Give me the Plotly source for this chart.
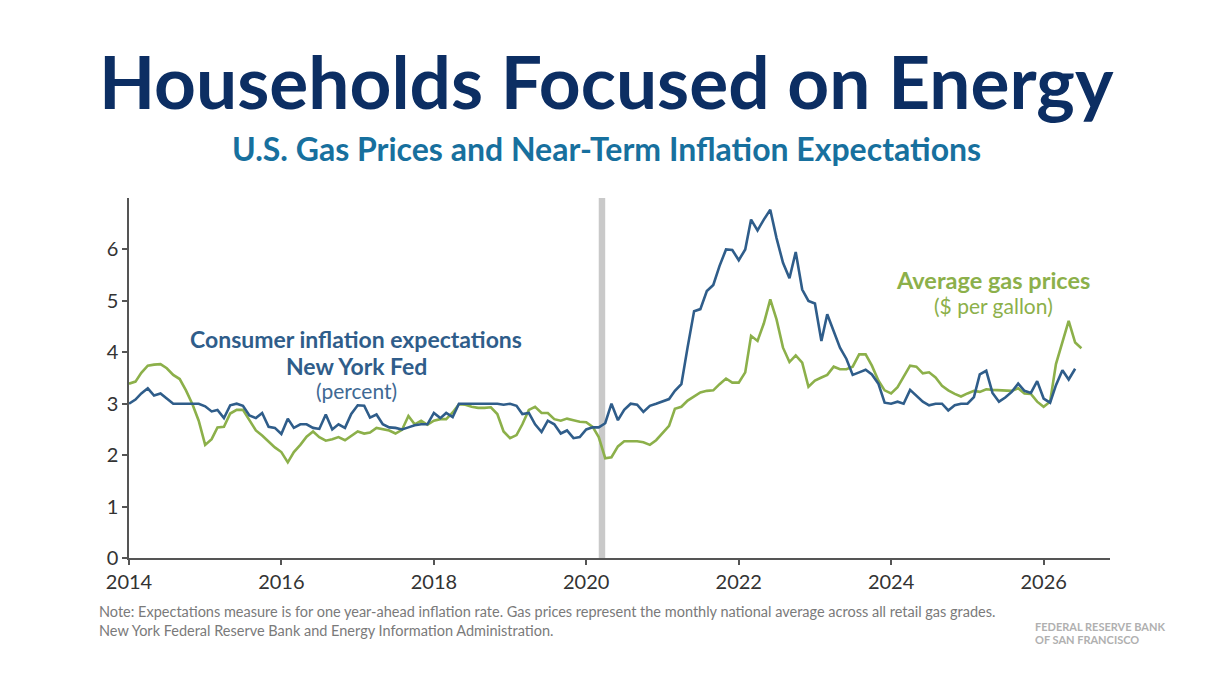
import pandas as pd
import plotly.graph_objects as go

# ---------------- data ----------------
expect_start = "2014-01-01"
expectations = [
    # 2014
    3.0, 3.08, 3.2, 3.3, 3.16, 3.2, 3.1, 3.0, 3.0, 3.0, 3.0, 3.0,
    # 2015
    2.95, 2.85, 2.88, 2.72, 2.97, 3.0, 2.96, 2.77, 2.72, 2.82, 2.55, 2.53,
    # 2016
    2.41, 2.71, 2.53, 2.6, 2.6, 2.53, 2.51, 2.79, 2.5, 2.6, 2.53, 2.8,
    # 2017
    2.97, 2.96, 2.73, 2.79, 2.6, 2.54, 2.53, 2.5, 2.54, 2.58, 2.6, 2.6,
    # 2018
    2.82, 2.72, 2.82, 2.74, 3.0, 3.0, 3.0, 3.0, 3.0, 3.0, 3.0, 2.98,
    # 2019
    3.0, 2.96, 2.8, 2.82, 2.6, 2.45, 2.67, 2.6, 2.42, 2.48, 2.33, 2.35,
    # 2020
    2.5, 2.54, 2.54, 2.62, 3.0, 2.68, 2.88, 3.0, 2.98, 2.84, 2.96, 3.0,
    # 2021
    3.04, 3.09, 3.25, 3.38, 4.1, 4.8, 4.84, 5.19, 5.31, 5.68, 6.0, 5.99,
    # 2022
    5.79, 6.0, 6.58, 6.37, 6.58, 6.77, 6.22, 5.74, 5.44, 5.95, 5.22, 5.0,
    # 2023
    4.95, 4.22, 4.74, 4.41, 4.09, 3.87, 3.56, 3.61, 3.66, 3.57, 3.39, 3.02,
    # 2024
    3.0, 3.04, 3.0, 3.27, 3.16, 3.04, 2.97, 3.0, 3.0, 2.87, 2.97, 3.0,
    # 2025
    3.0, 3.13, 3.57, 3.64, 3.21, 3.04, 3.12, 3.23, 3.39, 3.25, 3.21, 3.44,
    # 2026
    3.1, 3.02, 3.36, 3.65, 3.47, 3.68,
]

gas_start = "2014-01-01"
gas_prices = [
    # 2014
    3.39, 3.43, 3.6, 3.74, 3.76, 3.77, 3.69, 3.56, 3.48, 3.26, 2.99, 2.67,
    # 2015
    2.2, 2.31, 2.54, 2.55, 2.81, 2.88, 2.88, 2.67, 2.48, 2.38, 2.27, 2.15,
    # 2016
    2.06, 1.86, 2.06, 2.2, 2.36, 2.46, 2.35, 2.28, 2.31, 2.35, 2.29, 2.37,
    # 2017
    2.46, 2.42, 2.44, 2.53, 2.5, 2.48, 2.42, 2.49, 2.76, 2.6, 2.67, 2.59,
    # 2018
    2.67, 2.7, 2.7, 2.83, 2.99, 2.98, 2.94, 2.92, 2.92, 2.93, 2.8, 2.46,
    # 2019
    2.33, 2.39, 2.6, 2.88, 2.94, 2.82, 2.82, 2.7, 2.67, 2.71, 2.68, 2.65,
    # 2020
    2.64, 2.55, 2.35, 1.94, 1.96, 2.17, 2.27, 2.27, 2.27, 2.25, 2.2, 2.29,
    # 2021
    2.42, 2.57, 2.9, 2.94, 3.06, 3.14, 3.22, 3.25, 3.26, 3.38, 3.49, 3.41,
    # 2022
    3.41, 3.61, 4.32, 4.22, 4.56, 5.03, 4.64, 4.09, 3.81, 3.94, 3.8, 3.33,
    # 2023
    3.45, 3.51, 3.56, 3.72, 3.67, 3.67, 3.72, 3.96, 3.96, 3.74, 3.45, 3.26,
    # 2024
    3.2, 3.32, 3.52, 3.74, 3.72, 3.59, 3.61, 3.51, 3.35, 3.26, 3.19, 3.14,
    # 2025
    3.2, 3.25, 3.23, 3.28, 3.27, 3.26, 3.25, 3.25, 3.3, 3.2, 3.19, 3.04,
    # 2026
    2.94, 3.04, 3.77, 4.19, 4.61, 4.19, 4.08,
]

x_tick_years = [2014, 2016, 2018, 2020, 2022, 2024, 2026]
y_tick_values = [0, 1, 2, 3, 4, 5, 6]
shade_start, shade_end = "2020-03-01", "2020-04-01"

title_text = "Households Focused on Energy"
subtitle_text = "U.S. Gas Prices and Near-Term Inflation Expectations"
note_line1 = ("Note: Expectations measure is for one year-ahead inflation rate. "
              "Gas prices represent the monthly national average across all retail gas grades.")
note_line2 = "New York Federal Reserve Bank and Energy Information Administration."

# ---------------- figure ----------------
BLUE = "#2f5d8a"
GREEN = "#8cb04a"
NAVY = "#0c2e63"
TEAL = "#17709e"
FONT = "Lato"

exp_dates = pd.date_range(expect_start, periods=len(expectations), freq="MS")
gas_dates = pd.date_range(gas_start, periods=len(gas_prices), freq="MS")

fig = go.Figure()
fig.add_shape(type="rect", x0=shade_start, x1=shade_end, y0=0, y1=1,
              xref="x", yref="paper",
              fillcolor="#c9c9c9", line_width=0, layer="below")
fig.add_trace(go.Scatter(x=gas_dates, y=gas_prices, mode="lines",
                         line=dict(color=GREEN, width=2.6), name="Average gas prices"))
fig.add_trace(go.Scatter(x=exp_dates, y=expectations, mode="lines",
                         line=dict(color=BLUE, width=2.6), name="Consumer inflation expectations"))

# page offsets the figure by 8px (default body margin); work in screen pixels
OFF = 8
W, H = 1210, 680
PL, PR, PT, PB = 129, 1110, 198, 558          # plot area on screen
L, R, T, B = PL - OFF, W - (PR - OFF), PT - OFF, H - (PB - OFF)
PW, PH = PR - PL, PB - PT


def px(x):
    return (x - PL) / PW


def py(y):
    return (PB - y) / PH


def note(text, x, y, size, color, anchor="center", bold=False):
    return dict(text=f"<b>{text}</b>" if bold else text, x=px(x), y=py(y),
                xref="paper", yref="paper", showarrow=False,
                xanchor=anchor, yanchor="middle",
                font=dict(family=FONT, size=size, color=color))


ann = [
    note(title_text, 606, 81, 73, NAVY, bold=True),
    note(subtitle_text, 606, 148, 32, TEAL, bold=True),
    note("Consumer inflation expectations", 356, 339, 23, BLUE, bold=True),
    note("New York Fed", 356, 366, 23, BLUE, bold=True),
    note("(percent)", 356, 390, 21, "#3f6a94"),
    note("Average gas prices", 993, 280, 23.5, GREEN, bold=True),
    note("($ per gallon)", 993, 305, 21, GREEN),
    note(note_line1, 97, 611, 14.5, "#7a7a7a", anchor="left"),
    note(note_line2, 97, 630, 14.5, "#7a7a7a", anchor="left"),
    note("FEDERAL RESERVE BANK", 1033, 626, 11, "#b0b0b0", anchor="left", bold=True),
    note("OF SAN FRANCISCO", 1033, 639, 11, "#b0b0b0", anchor="left", bold=True),
]

fig.update_layout(
    width=W, height=H,
    margin=dict(l=L, r=R, t=T, b=B, autoexpand=False),
    paper_bgcolor="white", plot_bgcolor="white",
    showlegend=False,
    annotations=ann,
    font=dict(family=FONT, color="#333333"),
)
fig.update_xaxes(
    range=["2014-01-01", "2026-11-15"],
    tickvals=[f"{y}-01-01" for y in x_tick_years],
    ticktext=[str(y) for y in x_tick_years],
    showgrid=False, zeroline=False,
    showline=True, linecolor="#555555", linewidth=1.5,
    ticks="outside", ticklen=5, tickcolor="#555555", tickwidth=1.5,
    tickfont=dict(family=FONT, size=20, color="#333333"),
)
fig.update_yaxes(
    range=[0, 7],
    tickvals=y_tick_values,
    showgrid=False, zeroline=False,
    showline=True, linecolor="#555555", linewidth=1.5,
    ticks="outside", ticklen=5, tickcolor="#555555", tickwidth=1.5,
    tickfont=dict(family=FONT, size=20, color="#333333"),
)

fig.write_html("out.html")
